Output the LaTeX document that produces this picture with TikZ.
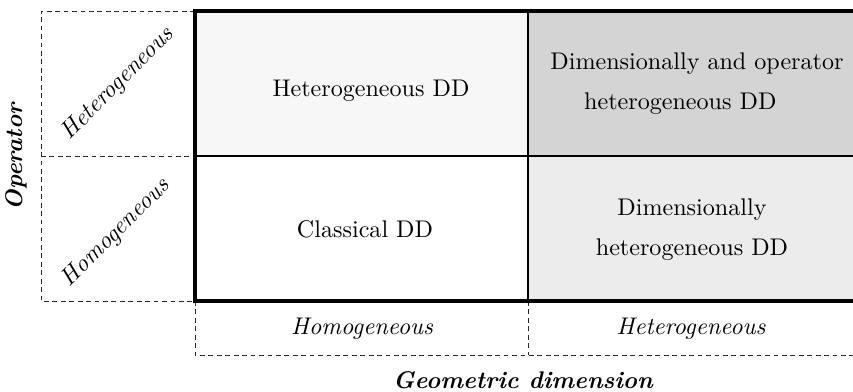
\documentclass[tikz,border=0pt]{standalone}
\usetikzlibrary{positioning}
\definecolor{cellA}{HTML}{F7F7F7}
\definecolor{cellB}{HTML}{D4D4D4}
\definecolor{cellC}{HTML}{FFFFFF}
\definecolor{cellD}{HTML}{ECECEC}
\tikzset{
  cellfill/.style={draw=none},
  gridthick/.style={line width=1.25pt, line cap=rect},
  gridthin/.style={line width=0.6pt},
  dashline/.style={line width=0.4pt, dash pattern=on 2pt off 1.5pt, black!85},
  celltext/.style={inner sep=0pt, align=center},
  axislabel/.style={inner sep=0pt, font=\itshape},
  axistitle/.style={inner sep=0pt, font=\bfseries\itshape},
}
\begin{document}
\begin{tikzpicture}[x=0.415pt, y=-0.415pt]
\useasboundingbox (0,0) rectangle (853,392);
% coordinates
\coordinate (tl) at (195,11);
\coordinate (tm) at (528,11);
\coordinate (tr) at (853,11);
\coordinate (ml) at (195,156);
\coordinate (mm) at (528,156);
\coordinate (mr) at (853,156);
\coordinate (bl) at (195,301);
\coordinate (bm) at (528,301);
\coordinate (br) at (853,301);
% fills
\fill[cellA] (tl) rectangle (mm);
\fill[cellB] (tm) rectangle (mr);
\fill[cellC] (ml) rectangle (bm);
\fill[cellD] (mm) rectangle (br);
% dashed frames
\coordinate (dl1) at (41,11);
\coordinate (dl2) at (41,156);
\coordinate (dl3) at (41,301);
\draw[dashline] (tl) -- (dl1) -- (dl3) -- (bl);
\draw[dashline] (dl2) -- (ml);
\coordinate (db1) at (195,355);
\coordinate (db2) at (528,355);
\coordinate (db3) at (853,355);
\draw[dashline] (bl) -- (db1) -- (db3);
\draw[dashline] (bm) -- (db2);
% grid lines
\draw[gridthin] (ml) -- (mr);
\draw[gridthin] (tm) -- (bm);
\draw[gridthick] (tr) -- (tl) -- (bl) -- (br);
% cell texts
\node[celltext] (c11) at (371,91) {Heterogeneous DD};
\node[celltext, align=left] (c12) at (697,84) {Dimensionally and operator\\[4.6pt]\hspace*{14pt}heterogeneous DD};
\node[celltext] (c21) at (365,229) {Classical DD};
\node[celltext] (c22) at (692,230) {Dimensionally\\[4.6pt]heterogeneous DD};
% axis labels
\node[axislabel, rotate=45] (oh) at (118,84) {Heterogeneous};
\node[axislabel, rotate=45] (oo) at (116,233) {Homogeneous};
\node[axislabel] (gh) at (362,329) {Homogeneous};
\node[axislabel] (gt) at (691,329) {Heterogeneous};
\node[axistitle, rotate=90] (op) at (16,157) {Operator};
\node[axistitle] (gd) at (523,380) {Geometric dimension};
\end{tikzpicture}
\end{document}
